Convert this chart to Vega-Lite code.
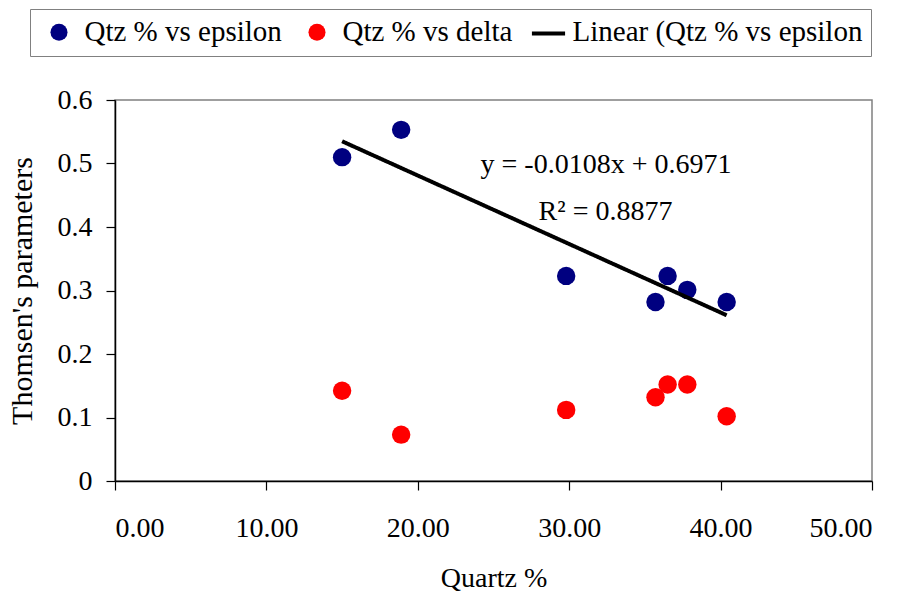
{
  "$schema": "https://vega.github.io/schema/vega-lite/v6.json",
  "width": 757,
  "height": 381,
  "autosize": {"type": "none"},
  "padding": {"left": 115, "top": 100, "right": 36, "bottom": 117},
  "background": "white",
  "config": {
    "view": {"stroke": "#808080", "strokeWidth": 1.5},
    "font": "Liberation Serif",
    "axis": {
      "labelFont": "Liberation Serif",
      "labelFontSize": 28,
      "labelColor": "black",
      "titleFont": "Liberation Serif",
      "titleFontSize": 28,
      "titleFontWeight": "normal",
      "titleColor": "black",
      "domainColor": "black",
      "domainWidth": 1.5,
      "tickColor": "black",
      "tickWidth": 1.2,
      "tickSize": 9,
      "grid": false
    }
  },
  "datasets": {
    "pts": [
      {"quartz": 15.0, "value": 0.51, "series": "Qtz % vs epsilon"},
      {"quartz": 18.9, "value": 0.553, "series": "Qtz % vs epsilon"},
      {"quartz": 29.8, "value": 0.323, "series": "Qtz % vs epsilon"},
      {"quartz": 35.7, "value": 0.282, "series": "Qtz % vs epsilon"},
      {"quartz": 36.5, "value": 0.323, "series": "Qtz % vs epsilon"},
      {"quartz": 37.8, "value": 0.301, "series": "Qtz % vs epsilon"},
      {"quartz": 40.4, "value": 0.282, "series": "Qtz % vs epsilon"},
      {"quartz": 15.0, "value": 0.142, "series": "Qtz % vs delta"},
      {"quartz": 18.9, "value": 0.073, "series": "Qtz % vs delta"},
      {"quartz": 29.8, "value": 0.112, "series": "Qtz % vs delta"},
      {"quartz": 35.7, "value": 0.132, "series": "Qtz % vs delta"},
      {"quartz": 36.5, "value": 0.152, "series": "Qtz % vs delta"},
      {"quartz": 37.8, "value": 0.152, "series": "Qtz % vs delta"},
      {"quartz": 40.4, "value": 0.102, "series": "Qtz % vs delta"}
    ],
    "trend": [
      {"quartz": 15.0, "value": 0.535, "series": "Linear (Qtz % vs epsilon"},
      {"quartz": 40.4, "value": 0.261, "series": "Linear (Qtz % vs epsilon"}
    ],
    "notes": [
      {"quartz": 32.43, "value": 0.485, "label": "y = -0.0108x + 0.6971"},
      {"quartz": 32.4, "value": 0.411, "label": "R² = 0.8877"}
    ]
  },
  "encoding": {
    "x": {
      "field": "quartz",
      "type": "quantitative",
      "scale": {"domain": [0, 50], "nice": false},
      "axis": {
        "title": "Quartz %",
        "values": [0, 10, 20, 30, 40, 50],
        "format": ".2f",
        "labelPadding": 24,
        "titlePadding": 22
      }
    },
    "y": {
      "field": "value",
      "type": "quantitative",
      "scale": {"domain": [0, 0.6], "nice": false},
      "axis": {
        "title": "Thomsen's parameters",
        "titleFontSize": 30,
        "values": [0, 0.1, 0.2, 0.3, 0.4, 0.5, 0.6],
        "format": ".1~f",
        "labelPadding": 14,
        "titlePadding": 20
      }
    }
  },
  "layer": [
    {
      "data": {"name": "pts"},
      "mark": {"type": "point", "filled": true, "opacity": 1, "size": 340, "shape": "circle"},
      "encoding": {
        "color": {
          "field": "series",
          "type": "nominal",
          "scale": {
            "domain": ["Qtz % vs epsilon", "Qtz % vs delta", "Linear (Qtz % vs epsilon"],
            "range": ["#000080", "#FF0000", "transparent"]
          },
          "legend": {
            "title": null,
            "orient": "none",
            "legendX": -85,
            "legendY": -91,
            "direction": "horizontal",
            "columns": 3,
            "labelFont": "Liberation Serif",
            "labelFontSize": 29,
            "labelColor": "black",
            "labelLimit": 400,
            "symbolSize": 290,
            "symbolOffset": 6,
            "labelOffset": 11,
            "columnPadding": 14,
            "padding": 8.5,
            "strokeColor": "#808080"
          }
        }
      }
    },
    {
      "data": {"name": "trend"},
      "mark": {"type": "line", "strokeWidth": 4, "color": "black"},
      "encoding": {
        "strokeDash": {
          "field": "series",
          "type": "nominal",
          "scale": {"domain": ["Linear (Qtz % vs epsilon"], "range": [[1, 0]]},
          "legend": {
            "title": null,
            "orient": "none",
            "legendX": 414.5,
            "legendY": -85.5,
            "padding": 0,
            "symbolType": "stroke",
            "symbolSize": 1100,
            "symbolStrokeWidth": 4,
            "symbolStrokeColor": "black",
            "labelExpr": "''",
            "labelOffset": 0,
            "labelFontSize": 1
          }
        }
      }
    },
    {
      "data": {"name": "notes"},
      "mark": {"type": "text", "font": "Liberation Serif", "fontSize": 28, "align": "center", "baseline": "alphabetic", "color": "black"},
      "encoding": {
        "text": {"field": "label", "type": "nominal"}
      }
    }
  ]
}
